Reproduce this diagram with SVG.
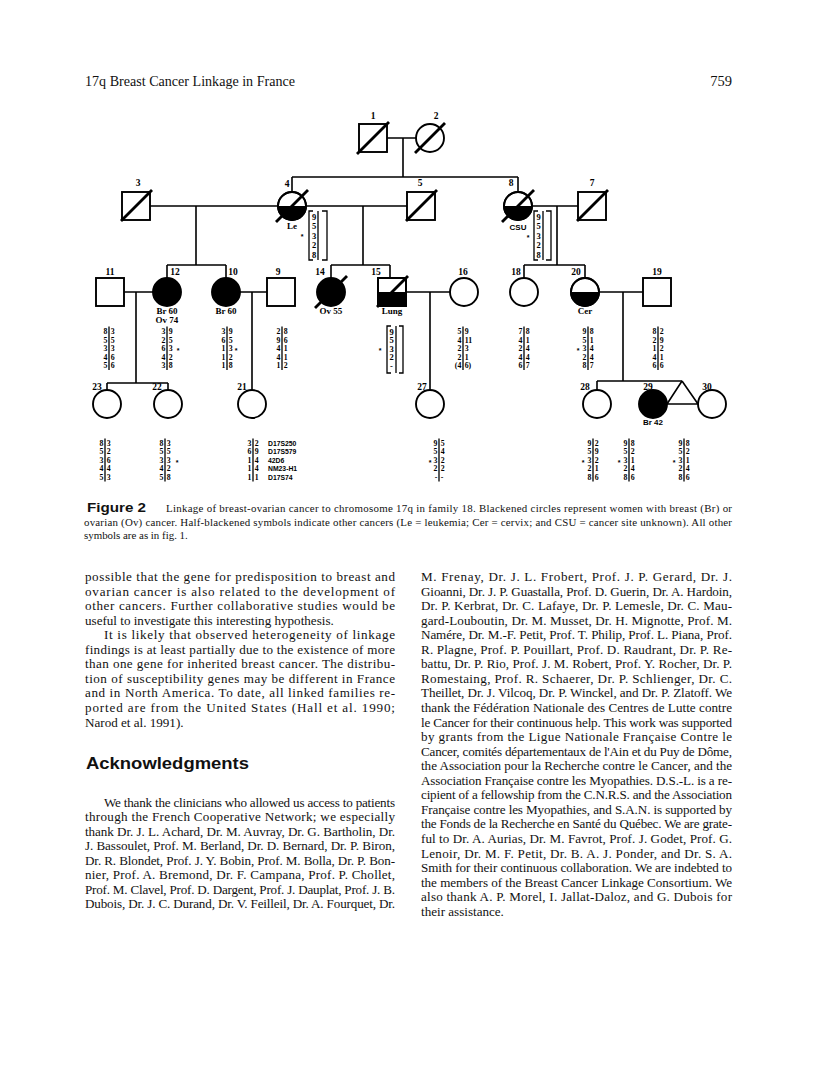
<svg xmlns="http://www.w3.org/2000/svg" width="816" height="1081" viewBox="0 0 816 1081">
<style>
.ln{stroke:#000;stroke-width:1.6;fill:none}
.sym{stroke:#000;stroke-width:1.9;fill:#fff}
.blk{fill:#000}
.sl{stroke:#000;stroke-width:2.8;stroke-linecap:butt}
.lb{font-family:"Liberation Serif",serif;font-weight:bold;font-size:9.5px;text-anchor:middle;fill:#000}
.an{font-family:"Liberation Serif",serif;font-weight:bold;font-size:9px;text-anchor:middle;fill:#000}
.ans{font-family:"Liberation Sans",sans-serif;font-weight:bold;font-size:8px;text-anchor:middle;fill:#000}
.hl{font-family:"Liberation Serif",serif;font-weight:bold;font-size:7.8px;text-anchor:end;fill:#000}
.hr{font-family:"Liberation Serif",serif;font-weight:bold;font-size:7.8px;text-anchor:start;fill:#000}
.hb{font-family:"Liberation Serif",serif;font-weight:bold;font-size:8.5px;text-anchor:middle;fill:#000}
.ast{font-family:"Liberation Sans",sans-serif;font-weight:bold;font-size:7px;text-anchor:middle;fill:#000}
.mk{font-family:"Liberation Sans",sans-serif;font-weight:bold;font-size:6.8px;fill:#000}
.hv{stroke:#000;stroke-width:1.3;fill:none}
.br{stroke:#000;stroke-width:1.3;fill:none}
.bt{font-family:"Liberation Serif",serif;font-size:13.1px;fill:#111}
.cp{font-family:"Liberation Serif",serif;font-size:10.9px;fill:#111}
.hd{font-family:"Liberation Serif",serif;font-size:14.5px;fill:#111}
</style>
<rect width="816" height="1081" fill="#fff"/>

<g id="header">
<text class="hd" x="85" y="86" textLength="210" lengthAdjust="spacingAndGlyphs">17q Breast Cancer Linkage in France</text>
<text class="hd" x="732" y="86" text-anchor="end">759</text>
</g>

<g id="connectors">
<path class="ln" d="M387,138 H416 M403,138 V177 M292,177 H518 M292,177 V192 M518,177 V192"/>
<path class="ln" d="M150,206 H278 M306,206 H407 M532,206 H578"/>
<path class="ln" d="M196,206 V265 M167,265 H226 M167,265 V278 M226,265 V278"/>
<path class="ln" d="M363,206 V265 M331,265 H390 M331,265 V278 M390,265 V278"/>
<path class="ln" d="M557,206 V265 M524,265 H585 M524,265 V278 M585,265 V278"/>
<path class="ln" d="M124,292 H153 M136,292 V383 M107,383 H168 M107,383 V390 M168,383 V390"/>
<path class="ln" d="M240,292 H267 M252,292 V390"/>
<path class="ln" d="M406,292 H450 M430,292 V390"/>
<path class="ln" d="M599,292 H643 M623,292 V381 M597,381 H682 M597,381 V390"/>
<path class="ln" d="M682,381 L667,404 M682,381 L698,404 M667,404 H698"/>
</g>

<g id="n1">
<rect class="sym" x="359" y="124" width="28" height="28"/>
<line class="sl" x1="357" y1="154" x2="389" y2="122"/>
<text class="lb" x="373" y="119">1</text>
</g>
<g id="n2">
<circle class="sym" cx="430" cy="138" r="14"/>
<line class="sl" x1="415" y1="153" x2="445" y2="123"/>
<text class="lb" x="436" y="119">2</text>
</g>

<g id="n3">
<rect class="sym" x="122" y="192" width="28" height="28"/>
<line class="sl" x1="121" y1="221" x2="152" y2="190"/>
<text class="lb" x="138" y="186">3</text>
</g>
<g id="n4">
<circle class="sym" cx="292" cy="206" r="14"/>
<path class="blk" d="M278,206 A14,14 0 0 0 306,206 Z"/>
<circle cx="292" cy="206" r="14" fill="none" stroke="#000" stroke-width="1.9"/>
<line class="sl" x1="276" y1="222" x2="308" y2="190"/>
<text class="lb" x="287" y="187">4</text>
<text class="an" x="292" y="229">Le</text>
<path class="br" d="M313,211 H309 V260 H313 M318,211 V260 M322,211 H327 V260 H322"/>
<text class="hb"><tspan x="314" y="219.5">9</tspan><tspan x="314" y="229">5</tspan><tspan x="314" y="238.5">3</tspan><tspan x="314" y="248">2</tspan><tspan x="314" y="257.5">8</tspan></text>
<text class="ast" x="302" y="239">*</text>
</g>
<g id="n5">
<rect class="sym" x="407" y="192" width="28" height="28"/>
<line class="sl" x1="406" y1="221" x2="437" y2="190"/>
<text class="lb" x="420" y="186">5</text>
</g>
<g id="n8">
<circle class="sym" cx="518" cy="206" r="14"/>
<path class="blk" d="M504,206 A14,14 0 0 0 532,206 Z"/>
<circle cx="518" cy="206" r="14" fill="none" stroke="#000" stroke-width="1.9"/>
<line class="sl" x1="502" y1="222" x2="534" y2="190"/>
<text class="lb" x="511" y="186">8</text>
<text class="ans" x="518" y="230">CSU</text>
<path class="br" d="M538,211 H534 V260 H538 M543,211 V260 M546,211 H551 V260 H546"/>
<text class="hb"><tspan x="538.5" y="219.5">9</tspan><tspan x="538.5" y="229">5</tspan><tspan x="538.5" y="238.5">3</tspan><tspan x="538.5" y="248">2</tspan><tspan x="538.5" y="257.5">8</tspan></text>
<text class="ast" x="528" y="240">*</text>
</g>
<g id="n7">
<rect class="sym" x="578" y="192" width="28" height="28"/>
<line class="sl" x1="577" y1="221" x2="608" y2="190"/>
<text class="lb" x="592" y="186">7</text>
</g>

<g id="n11">
<rect class="sym" x="96" y="278" width="28" height="28"/>
<text class="lb" x="110" y="275">11</text>
<path class="hv" d="M109,326.5 V370"/>
<text class="hl"><tspan x="107.3" y="334">8</tspan><tspan x="107.3" y="342.5">5</tspan><tspan x="107.3" y="351">3</tspan><tspan x="107.3" y="359.5">4</tspan><tspan x="107.3" y="368">5</tspan></text>
<text class="hr"><tspan x="110.7" y="334">3</tspan><tspan x="110.7" y="342.5">5</tspan><tspan x="110.7" y="351">3</tspan><tspan x="110.7" y="359.5">6</tspan><tspan x="110.7" y="368">6</tspan></text>
</g>
<g id="n12">
<circle class="sym" cx="167" cy="292" r="14" style="fill:#000"/>
<text class="lb" x="175" y="275">12</text>
<text class="an" x="167" y="314">Br 60</text>
<text class="an" x="167" y="323">Ov 74</text>
<path class="hv" d="M167,326.5 V370"/>
<text class="hl"><tspan x="165.3" y="334">3</tspan><tspan x="165.3" y="342.5">2</tspan><tspan x="165.3" y="351">6</tspan><tspan x="165.3" y="359.5">4</tspan><tspan x="165.3" y="368">3</tspan></text>
<text class="hr"><tspan x="168.7" y="334">9</tspan><tspan x="168.7" y="342.5">5</tspan><tspan x="168.7" y="351">3</tspan><tspan x="168.7" y="359.5">2</tspan><tspan x="168.7" y="368">8</tspan></text>
<text class="ast" x="178" y="353">*</text>
</g>
<g id="n10">
<circle class="sym" cx="226" cy="292" r="14" style="fill:#000"/>
<text class="lb" x="233" y="275">10</text>
<text class="an" x="226" y="314">Br 60</text>
<path class="hv" d="M227,326.5 V370"/>
<text class="hl"><tspan x="225.3" y="334">3</tspan><tspan x="225.3" y="342.5">6</tspan><tspan x="225.3" y="351">1</tspan><tspan x="225.3" y="359.5">1</tspan><tspan x="225.3" y="368">1</tspan></text>
<text class="hr"><tspan x="228.7" y="334">9</tspan><tspan x="228.7" y="342.5">5</tspan><tspan x="228.7" y="351">3</tspan><tspan x="228.7" y="359.5">2</tspan><tspan x="228.7" y="368">8</tspan></text>
<text class="ast" x="236" y="353">*</text>
</g>
<g id="n9">
<rect class="sym" x="267" y="278" width="28" height="28"/>
<text class="lb" x="278" y="275">9</text>
<path class="hv" d="M282,326.5 V370"/>
<text class="hl"><tspan x="280.3" y="334">2</tspan><tspan x="280.3" y="342.5">9</tspan><tspan x="280.3" y="351">4</tspan><tspan x="280.3" y="359.5">4</tspan><tspan x="280.3" y="368">1</tspan></text>
<text class="hr"><tspan x="283.7" y="334">8</tspan><tspan x="283.7" y="342.5">6</tspan><tspan x="283.7" y="351">1</tspan><tspan x="283.7" y="359.5">1</tspan><tspan x="283.7" y="368">2</tspan></text>
</g>
<g id="n14">
<circle class="sym" cx="331" cy="292" r="14" style="fill:#000"/>
<line class="sl" x1="315" y1="308" x2="347" y2="276"/>
<text class="lb" x="320" y="275">14</text>
<text class="an" x="331" y="314">Ov 55</text>
</g>
<g id="n15">
<rect class="sym" x="378" y="278" width="28" height="28"/>
<rect class="blk" x="378" y="292" width="28" height="14"/>
<rect x="378" y="278" width="28" height="28" fill="none" stroke="#000" stroke-width="1.9"/>
<line class="sl" x1="377" y1="307" x2="408" y2="276"/>
<text class="lb" x="376" y="275">15</text>
<text class="an" x="392" y="314">Lung</text>
<path class="br" d="M391,326 H387 V373 H391 M396,326 V373 M399,326 H403 V373 H399"/>
<text class="hb"><tspan x="391.5" y="334.5">9</tspan><tspan x="391.5" y="343">5</tspan><tspan x="391.5" y="351.5">3</tspan><tspan x="391.5" y="360">2</tspan><tspan x="391.5" y="368.5">-</tspan></text>
<text class="ast" x="380" y="353">*</text>
</g>
<g id="n16">
<circle class="sym" cx="464" cy="292" r="14"/>
<text class="lb" x="463" y="275">16</text>
<path class="hv" d="M463,326.5 V370"/>
<text class="hl"><tspan x="461.3" y="334">5</tspan><tspan x="461.3" y="342.5">4</tspan><tspan x="461.3" y="351">2</tspan><tspan x="461.3" y="359.5">2</tspan><tspan x="461.3" y="368">(4</tspan></text>
<text class="hr"><tspan x="464.7" y="334">9</tspan><tspan x="464.7" y="342.5">11</tspan><tspan x="464.7" y="351">3</tspan><tspan x="464.7" y="359.5">1</tspan><tspan x="464.7" y="368">6)</tspan></text>
</g>
<g id="n18">
<circle class="sym" cx="524" cy="292" r="14"/>
<text class="lb" x="516" y="275">18</text>
<path class="hv" d="M524,326.5 V370"/>
<text class="hl"><tspan x="522.3" y="334">7</tspan><tspan x="522.3" y="342.5">4</tspan><tspan x="522.3" y="351">2</tspan><tspan x="522.3" y="359.5">4</tspan><tspan x="522.3" y="368">6</tspan></text>
<text class="hr"><tspan x="525.7" y="334">8</tspan><tspan x="525.7" y="342.5">1</tspan><tspan x="525.7" y="351">4</tspan><tspan x="525.7" y="359.5">4</tspan><tspan x="525.7" y="368">7</tspan></text>
</g>
<g id="n20">
<circle class="sym" cx="585" cy="292" r="14"/>
<path class="blk" d="M571,292 A14,14 0 0 0 599,292 Z"/>
<circle cx="585" cy="292" r="14" fill="none" stroke="#000" stroke-width="1.9"/>
<text class="lb" x="576" y="275">20</text>
<text class="an" x="585" y="314">Cer</text>
<path class="hv" d="M588,326.5 V370"/>
<text class="hl"><tspan x="586.3" y="334">9</tspan><tspan x="586.3" y="342.5">5</tspan><tspan x="586.3" y="351">3</tspan><tspan x="586.3" y="359.5">2</tspan><tspan x="586.3" y="368">8</tspan></text>
<text class="hr"><tspan x="589.7" y="334">8</tspan><tspan x="589.7" y="342.5">1</tspan><tspan x="589.7" y="351">4</tspan><tspan x="589.7" y="359.5">4</tspan><tspan x="589.7" y="368">7</tspan></text>
<text class="ast" x="578" y="353">*</text>
</g>
<g id="n19">
<rect class="sym" x="643" y="278" width="28" height="28"/>
<text class="lb" x="657" y="275">19</text>
<path class="hv" d="M658,326.5 V370"/>
<text class="hl"><tspan x="656.3" y="334">8</tspan><tspan x="656.3" y="342.5">2</tspan><tspan x="656.3" y="351">1</tspan><tspan x="656.3" y="359.5">4</tspan><tspan x="656.3" y="368">6</tspan></text>
<text class="hr"><tspan x="659.7" y="334">2</tspan><tspan x="659.7" y="342.5">9</tspan><tspan x="659.7" y="351">2</tspan><tspan x="659.7" y="359.5">1</tspan><tspan x="659.7" y="368">6</tspan></text>
</g>

<g id="n23">
<circle class="sym" cx="107" cy="404" r="14"/>
<text class="lb" x="97" y="390">23</text>
<path class="hv" d="M105,438.5 V481.5"/>
<text class="hl"><tspan x="103.3" y="446">8</tspan><tspan x="103.3" y="454.4">5</tspan><tspan x="103.3" y="462.8">3</tspan><tspan x="103.3" y="471.2">4</tspan><tspan x="103.3" y="479.6">5</tspan></text>
<text class="hr"><tspan x="106.7" y="446">3</tspan><tspan x="106.7" y="454.4">2</tspan><tspan x="106.7" y="462.8">6</tspan><tspan x="106.7" y="471.2">4</tspan><tspan x="106.7" y="479.6">3</tspan></text>
</g>
<g id="n22">
<circle class="sym" cx="168" cy="404" r="14"/>
<text class="lb" x="157" y="390">22</text>
<path class="hv" d="M165,438.5 V481.5"/>
<text class="hl"><tspan x="163.3" y="446">8</tspan><tspan x="163.3" y="454.4">5</tspan><tspan x="163.3" y="462.8">3</tspan><tspan x="163.3" y="471.2">4</tspan><tspan x="163.3" y="479.6">5</tspan></text>
<text class="hr"><tspan x="166.7" y="446">3</tspan><tspan x="166.7" y="454.4">5</tspan><tspan x="166.7" y="462.8">3</tspan><tspan x="166.7" y="471.2">2</tspan><tspan x="166.7" y="479.6">8</tspan></text>
<text class="ast" x="177" y="465">*</text>
</g>
<g id="n21">
<circle class="sym" cx="252" cy="404" r="14"/>
<text class="lb" x="242" y="390">21</text>
<path class="hv" d="M253,438.5 V481.5"/>
<text class="hl"><tspan x="251.3" y="446">3</tspan><tspan x="251.3" y="454.4">6</tspan><tspan x="251.3" y="462.8">1</tspan><tspan x="251.3" y="471.2">1</tspan><tspan x="251.3" y="479.6">1</tspan></text>
<text class="hr"><tspan x="254.7" y="446">2</tspan><tspan x="254.7" y="454.4">9</tspan><tspan x="254.7" y="462.8">4</tspan><tspan x="254.7" y="471.2">4</tspan><tspan x="254.7" y="479.6">1</tspan></text>
<text class="mk"><tspan x="268" y="446">D17S250</tspan><tspan x="268" y="454.4">D17S579</tspan><tspan x="268" y="462.8">42D6</tspan><tspan x="268" y="471.2">NM23-H1</tspan><tspan x="268" y="479.6">D17S74</tspan></text>
</g>
<g id="n27">
<circle class="sym" cx="430" cy="404" r="14"/>
<text class="lb" x="422" y="390">27</text>
<path class="hv" d="M439,438.5 V481.5"/>
<text class="hl"><tspan x="437.3" y="446">9</tspan><tspan x="437.3" y="454.4">5</tspan><tspan x="437.3" y="462.8">3</tspan><tspan x="437.3" y="471.2">2</tspan><tspan x="437.3" y="479.6">-</tspan></text>
<text class="hr"><tspan x="440.7" y="446">5</tspan><tspan x="440.7" y="454.4">4</tspan><tspan x="440.7" y="462.8">2</tspan><tspan x="440.7" y="471.2">2</tspan><tspan x="440.7" y="479.6">-</tspan></text>
<text class="ast" x="430" y="465">*</text>
</g>
<g id="n28">
<circle class="sym" cx="597" cy="404" r="14"/>
<text class="lb" x="585" y="390">28</text>
<path class="hv" d="M593,438.5 V481.5"/>
<text class="hl"><tspan x="591.3" y="446">9</tspan><tspan x="591.3" y="454.4">5</tspan><tspan x="591.3" y="462.8">3</tspan><tspan x="591.3" y="471.2">2</tspan><tspan x="591.3" y="479.6">8</tspan></text>
<text class="hr"><tspan x="594.7" y="446">2</tspan><tspan x="594.7" y="454.4">9</tspan><tspan x="594.7" y="462.8">2</tspan><tspan x="594.7" y="471.2">1</tspan><tspan x="594.7" y="479.6">6</tspan></text>
<text class="ast" x="583" y="465">*</text>
</g>
<g id="n29">
<circle class="sym" cx="653" cy="404" r="14" style="fill:#000"/>
<text class="lb" x="648" y="390">29</text>
<text class="ans" x="653" y="425">Br 42</text>
<path class="hv" d="M629,438.5 V481.5"/>
<text class="hl"><tspan x="627.3" y="446">9</tspan><tspan x="627.3" y="454.4">5</tspan><tspan x="627.3" y="462.8">3</tspan><tspan x="627.3" y="471.2">2</tspan><tspan x="627.3" y="479.6">8</tspan></text>
<text class="hr"><tspan x="630.7" y="446">8</tspan><tspan x="630.7" y="454.4">2</tspan><tspan x="630.7" y="462.8">1</tspan><tspan x="630.7" y="471.2">4</tspan><tspan x="630.7" y="479.6">6</tspan></text>
<text class="ast" x="619" y="465">*</text>
</g>
<g id="n30">
<circle class="sym" cx="712" cy="404" r="14"/>
<text class="lb" x="707" y="390">30</text>
<path class="hv" d="M684,438.5 V481.5"/>
<text class="hl"><tspan x="682.3" y="446">9</tspan><tspan x="682.3" y="454.4">5</tspan><tspan x="682.3" y="462.8">3</tspan><tspan x="682.3" y="471.2">2</tspan><tspan x="682.3" y="479.6">8</tspan></text>
<text class="hr"><tspan x="685.7" y="446">8</tspan><tspan x="685.7" y="454.4">2</tspan><tspan x="685.7" y="462.8">1</tspan><tspan x="685.7" y="471.2">4</tspan><tspan x="685.7" y="479.6">6</tspan></text>
<text class="ast" x="674" y="465">*</text>
</g>

<g id="caption">
<text x="87" y="512" font-family="Liberation Sans, sans-serif" font-weight="bold" font-size="12.5" fill="#111" textLength="59" lengthAdjust="spacingAndGlyphs">Figure 2</text>
<text class="cp" x="166" y="512" textLength="566" lengthAdjust="spacing">Linkage of breast-ovarian cancer to chromosome 17q in family 18. Blackened circles represent women with breast (Br) or</text>
<text class="cp" x="84" y="525.5" textLength="648" lengthAdjust="spacing">ovarian (Ov) cancer. Half-blackened symbols indicate other cancers (Le = leukemia; Cer = cervix; and CSU = cancer site unknown). All other</text>
<text class="cp" x="84" y="539">symbols are as in fig. 1.</text>
</g>

<g id="left-column">
<text class="bt" x="85" y="581" textLength="310" lengthAdjust="spacing">possible that the gene for predisposition to breast and</text>
<text class="bt" x="85" y="595.6" textLength="310" lengthAdjust="spacing">ovarian cancer is also related to the development of</text>
<text class="bt" x="85" y="610.1" textLength="310" lengthAdjust="spacing">other cancers. Further collaborative studies would be</text>
<text class="bt" x="85" y="624.7">useful to investigate this interesting hypothesis.</text>
<text class="bt" x="104" y="639.2" textLength="291" lengthAdjust="spacing">It is likely that observed heterogeneity of linkage</text>
<text class="bt" x="85" y="653.8" textLength="310" lengthAdjust="spacing">findings is at least partially due to the existence of more</text>
<text class="bt" x="85" y="668.3" textLength="310" lengthAdjust="spacing">than one gene for inherited breast cancer. The distribu-</text>
<text class="bt" x="85" y="682.9" textLength="310" lengthAdjust="spacing">tion of susceptibility genes may be different in France</text>
<text class="bt" x="85" y="697.4" textLength="310" lengthAdjust="spacing">and in North America. To date, all linked families re-</text>
<text class="bt" x="85" y="712" textLength="310" lengthAdjust="spacing">ported are from the United States (Hall et al. 1990;</text>
<text class="bt" x="85" y="726.5">Narod et al. 1991).</text>
<text x="86" y="769" font-family="Liberation Sans, sans-serif" font-weight="bold" font-size="16.5" fill="#111" textLength="163" lengthAdjust="spacingAndGlyphs">Acknowledgments</text>
<text class="bt" x="104" y="806.5" textLength="291" lengthAdjust="spacing">We thank the clinicians who allowed us access to patients</text>
<text class="bt" x="85" y="821" textLength="310" lengthAdjust="spacing">through the French Cooperative Network; we especially</text>
<text class="bt" x="85" y="835.6" textLength="310" lengthAdjust="spacing">thank Dr. J. L. Achard, Dr. M. Auvray, Dr. G. Bartholin, Dr.</text>
<text class="bt" x="85" y="850.2" textLength="310" lengthAdjust="spacing">J. Bassoulet, Prof. M. Berland, Dr. D. Bernard, Dr. P. Biron,</text>
<text class="bt" x="85" y="864.7" textLength="310" lengthAdjust="spacing">Dr. R. Blondet, Prof. J. Y. Bobin, Prof. M. Bolla, Dr. P. Bon-</text>
<text class="bt" x="85" y="879.3" textLength="310" lengthAdjust="spacing">nier, Prof. A. Bremond, Dr. F. Campana, Prof. P. Chollet,</text>
<text class="bt" x="85" y="893.8" textLength="310" lengthAdjust="spacing">Prof. M. Clavel, Prof. D. Dargent, Prof. J. Dauplat, Prof. J. B.</text>
<text class="bt" x="85" y="908.4" textLength="310" lengthAdjust="spacing">Dubois, Dr. J. C. Durand, Dr. V. Feilleil, Dr. A. Fourquet, Dr.</text>
</g>

<g id="right-column">
<text class="bt" x="421" y="581" textLength="311" lengthAdjust="spacing">M. Frenay, Dr. J. L. Frobert, Prof. J. P. Gerard, Dr. J.</text>
<text class="bt" x="421" y="595.6" textLength="311" lengthAdjust="spacing">Gioanni, Dr. J. P. Guastalla, Prof. D. Guerin, Dr. A. Hardoin,</text>
<text class="bt" x="421" y="610.1" textLength="311" lengthAdjust="spacing">Dr. P. Kerbrat, Dr. C. Lafaye, Dr. P. Lemesle, Dr. C. Mau-</text>
<text class="bt" x="421" y="624.7" textLength="311" lengthAdjust="spacing">gard-Louboutin, Dr. M. Musset, Dr. H. Mignotte, Prof. M.</text>
<text class="bt" x="421" y="639.2" textLength="311" lengthAdjust="spacing">Namére, Dr. M.-F. Petit, Prof. T. Philip, Prof. L. Piana, Prof.</text>
<text class="bt" x="421" y="653.8" textLength="311" lengthAdjust="spacing">R. Plagne, Prof. P. Pouillart, Prof. D. Raudrant, Dr. P. Re-</text>
<text class="bt" x="421" y="668.3" textLength="311" lengthAdjust="spacing">battu, Dr. P. Rio, Prof. J. M. Robert, Prof. Y. Rocher, Dr. P.</text>
<text class="bt" x="421" y="682.9" textLength="311" lengthAdjust="spacing">Romestaing, Prof. R. Schaerer, Dr. P. Schlienger, Dr. C.</text>
<text class="bt" x="421" y="697.4" textLength="311" lengthAdjust="spacing">Theillet, Dr. J. Vilcoq, Dr. P. Winckel, and Dr. P. Zlatoff. We</text>
<text class="bt" x="421" y="712" textLength="311" lengthAdjust="spacing">thank the Fédération Nationale des Centres de Lutte contre</text>
<text class="bt" x="421" y="726.5" textLength="311" lengthAdjust="spacing">le Cancer for their continuous help. This work was supported</text>
<text class="bt" x="421" y="741" textLength="311" lengthAdjust="spacing">by grants from the Ligue Nationale Française Contre le</text>
<text class="bt" x="421" y="755.6" textLength="311" lengthAdjust="spacing">Cancer, comités départementaux de l'Ain et du Puy de Dôme,</text>
<text class="bt" x="421" y="770.2" textLength="311" lengthAdjust="spacing">the Association pour la Recherche contre le Cancer, and the</text>
<text class="bt" x="421" y="784.7" textLength="311" lengthAdjust="spacing">Association Française contre les Myopathies. D.S.-L. is a re-</text>
<text class="bt" x="421" y="799.3" textLength="311" lengthAdjust="spacing">cipient of a fellowship from the C.N.R.S. and the Association</text>
<text class="bt" x="421" y="813.8" textLength="311" lengthAdjust="spacing">Française contre les Myopathies, and S.A.N. is supported by</text>
<text class="bt" x="421" y="828.4" textLength="311" lengthAdjust="spacing">the Fonds de la Recherche en Santé du Québec. We are grate-</text>
<text class="bt" x="421" y="842.9" textLength="311" lengthAdjust="spacing">ful to Dr. A. Aurias, Dr. M. Favrot, Prof. J. Godet, Prof. G.</text>
<text class="bt" x="421" y="857.5" textLength="311" lengthAdjust="spacing">Lenoir, Dr. M. F. Petit, Dr. B. A. J. Ponder, and Dr. S. A.</text>
<text class="bt" x="421" y="872" textLength="311" lengthAdjust="spacing">Smith for their continuous collaboration. We are indebted to</text>
<text class="bt" x="421" y="886.6" textLength="311" lengthAdjust="spacing">the members of the Breast Cancer Linkage Consortium. We</text>
<text class="bt" x="421" y="901.1" textLength="311" lengthAdjust="spacing">also thank A. P. Morel, I. Jallat-Daloz, and G. Dubois for</text>
<text class="bt" x="421" y="915.7">their assistance.</text>
</g>
</svg>
